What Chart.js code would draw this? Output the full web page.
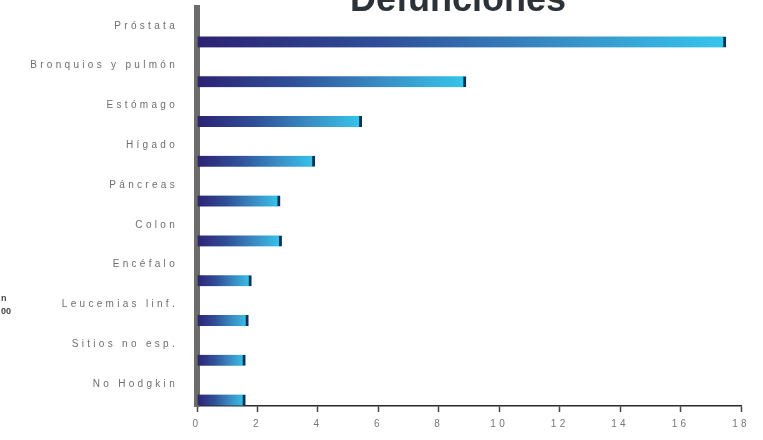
<!DOCTYPE html>
<html>
<head>
<meta charset="utf-8">
<script src="https://cdn.jsdelivr.net/npm/chart.js@4/dist/chart.umd.min.js"></script>
<style>
  html, body { margin: 0; padding: 0; background: #fff; }
  #wrap { position: relative; width: 763px; height: 440px; }
</style>
</head>
<body>
<div id="wrap"><canvas id="myChart"></canvas></div>
<script>
var causas = ['Próstata', 'Bronquios y pulmón', 'Estómago', 'Hígado', 'Páncreas',
              'Colon', 'Encéfalo', 'Leucemias linf.', 'Sitios no esp.', 'No Hodgkin']
var defunciones = [17.5, 8.9, 5.45, 3.9, 2.75, 2.8, 1.8, 1.7, 1.6, 1.6]
var xTicks = [0, 2, 4, 6, 8, 10, 12, 14, 16, 18]

const FONT = "'Liberation Sans', Arial, sans-serif"

// each bar fades from indigo at the axis to cyan at its own end
function barGradient(c) {
    const chart = c.chart
    const x = chart.scales.x
    if (!x || typeof c.raw !== 'number') return '#3070b0'
    const x0 = x.getPixelForValue(0)
    const x1 = x.getPixelForValue(c.raw)
    if (!isFinite(x0) || !isFinite(x1) || x1 <= x0) return '#3070b0'
    const g = chart.ctx.createLinearGradient(x0, 0, x1, 0)
    g.addColorStop(0, '#2d2274')
    g.addColorStop(0.35, '#2f4f98')
    g.addColorStop(0.7, '#3890c6')
    g.addColorStop(1, '#35c6ec')
    return g
}

// bars sit in the lower part of each row, under their label
const barDrop = {
    id: 'barDrop',
    afterDatasetsUpdate(chart) {
        chart.getDatasetMeta(0).data.forEach(bar => { bar.y += 14 })
    }
}

// spaced-out axis lettering, title and the stray side note
const extras = {
    id: 'extras',
    beforeDraw(chart) {
        chart.ctx.letterSpacing = '3.3px'
    },
    afterDraw(chart) {
        const ctx = chart.ctx
        ctx.save()
        ctx.letterSpacing = '0px'
        ctx.fillStyle = '#2b3338'
        ctx.font = 'bold 36px ' + FONT
        ctx.textAlign = 'center'
        ctx.textBaseline = 'alphabetic'
        ctx.fillText('Defunciones', 458, 11)
        ctx.font = 'bold 9px ' + FONT
        ctx.fillStyle = '#444'
        ctx.textAlign = 'left'
        ctx.fillText('n', 1, 301)
        ctx.fillText('00', 1, 314)
        ctx.restore()
    }
}

const ctx = document.getElementById('myChart')

var myChart = new Chart(ctx, {
    type: 'bar',
    data: {
        labels: causas,
        datasets: [{
            data: defunciones,
            backgroundColor: barGradient,
            borderColor: '#1c2d4c',
            borderWidth: { top: 0, bottom: 0, left: 0, right: 3 },
            borderSkipped: false,
            barThickness: 11
        }]
    },
    options: {
        indexAxis: 'y',
        responsive: true,
        maintainAspectRatio: false,
        animation: false,
        layout: { padding: { top: 8, right: 22, bottom: 0, left: 0 } },
        plugins: {
            legend: { display: false },
            tooltip: { enabled: false }
        },
        scales: {
            x: {
                min: 0,
                max: 18,
                afterBuildTicks: s => { s.ticks = xTicks.map(v => ({ value: v })) },
                afterFit: s => { s.height = 34 },
                grid: { drawOnChartArea: false, color: '#444', tickLength: 6, tickWidth: 1.5 },
                border: { color: '#2a2a2a', width: 1.5 },
                ticks: { color: '#777', padding: 6, font: { family: FONT, size: 10 } }
            },
            y: {
                afterFit: s => { s.width = 197; s.paddingTop = 0; s.paddingBottom = 0 },
                grid: { display: false },
                border: { display: true, color: '#6c6c6c', width: 6 },
                ticks: { color: '#6e6e6e', padding: 11, labelOffset: -2,
                         font: { family: FONT, size: 10 } }
            }
        }
    },
    plugins: [barDrop, extras]
})
</script>
</body>
</html>
